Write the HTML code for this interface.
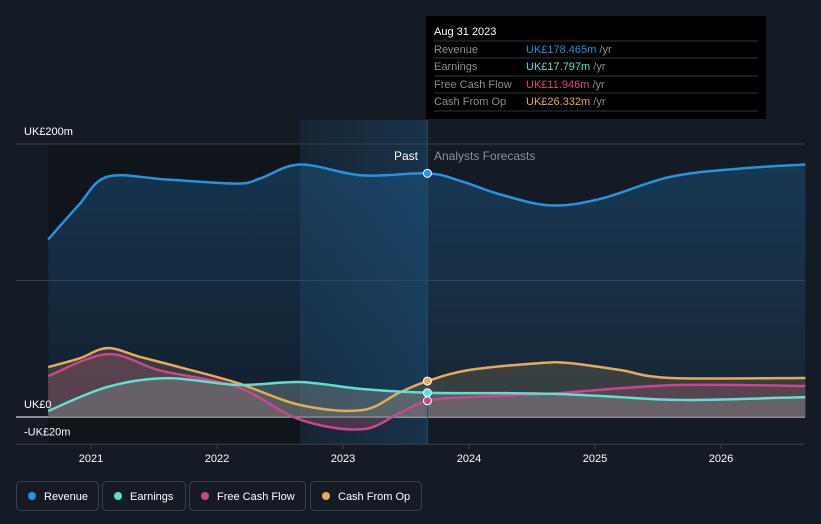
<!DOCTYPE html>
<html><head><meta charset="utf-8"><style>
body{margin:0;background:#151b24;font-family:"Liberation Sans",sans-serif;}
svg{display:block}
</style></head><body>
<svg id="chart" width="821" height="524" viewBox="0 0 821 524">
<defs>
<linearGradient id="gRev" x1="0" y1="0" x2="0" y2="1"><stop offset="0" stop-color="#1d5a8c" stop-opacity="0.45"/><stop offset="1" stop-color="#1d5a8c" stop-opacity="0.15"/></linearGradient>
<linearGradient id="gPast" x1="0" y1="0" x2="1" y2="0"><stop offset="0" stop-color="#1a4a70" stop-opacity="0.2"/><stop offset="1" stop-color="#1a4a70" stop-opacity="0.5"/></linearGradient>
</defs>
<rect x="0" y="0" width="821" height="524" fill="#151b24"/>
<rect x="48" y="144" width="252" height="300" fill="#10141b"/>
<rect x="300" y="120" width="127" height="324" fill="url(#gPast)"/>
<g id="grid"></g>
<g id="areas"></g>
<g id="lines"></g>
<g id="axis"></g>
<text x="418" y="160" fill="#ffffff" font-size="12" text-anchor="end">Past</text>
<text x="434" y="160" fill="#8a919c" font-size="12">Analysts Forecasts</text>
<g>
<rect x="426" y="16" width="340" height="103" fill="#000"/>
<text x="434" y="35" fill="#fff" font-size="11">Aug 31 2023</text>
<line x1="434" y1="41" x2="758" y2="41" stroke="#333"/>
<text x="434" y="53" fill="#8a8f96" font-size="11">Revenue</text><text x="526" y="53" font-size="11" fill="#2394df">UK£178.465m <tspan fill="#8a8f96">/yr</tspan></text>
<line x1="434" y1="58" x2="758" y2="58" stroke="#333"/>
<text x="434" y="70" fill="#8a8f96" font-size="11">Earnings</text><text x="526" y="70" font-size="11" fill="#5fe0cf">UK£17.797m <tspan fill="#8a8f96">/yr</tspan></text>
<line x1="434" y1="76" x2="758" y2="76" stroke="#333"/>
<text x="434" y="88" fill="#8a8f96" font-size="11">Free Cash Flow</text><text x="526" y="88" font-size="11" fill="#d9478a">UK£11.946m <tspan fill="#8a8f96">/yr</tspan></text>
<line x1="434" y1="93" x2="758" y2="93" stroke="#333"/>
<text x="434" y="105" fill="#8a8f96" font-size="11">Cash From Op</text><text x="526" y="105" font-size="11" fill="#e8a95a">UK£26.332m <tspan fill="#8a8f96">/yr</tspan></text>
<line x1="434" y1="111" x2="758" y2="111" stroke="#333"/>
</g>
<g id="legend"></g>
</svg>
<script>
const revT=[2020.66,2020.9,2021.13,2021.6,2022.16,2022.35,2022.66,2023.15,2023.67,2023.93,2024.25,2024.65,2025.05,2025.6,2026.15,2026.67];
const revV=[130,155,176,174,171,175,185,177,178.5,173,163,155,160,176,182,185];
const earnT=[2020.66,2021.13,2021.6,2022.16,2022.66,2023.15,2023.67,2024.25,2024.65,2025.05,2025.7,2026.67];
const earnV=[4.4,22,28.5,23.5,25.6,20.5,17.8,17.5,17,15.4,12.5,14.6];
const fcfT=[2020.66,2021.13,2021.55,2022.16,2022.66,2023.15,2023.45,2023.67,2024.0,2024.65,2025.05,2025.7,2026.67];
const fcfV=[30,46,34,22,-2,-9,3,11.9,14.6,17,20,23.5,22.7];
const cfoT=[2020.66,2020.91,2021.13,2021.39,2021.7,2022.16,2022.66,2023.15,2023.45,2023.67,2024.0,2024.56,2024.8,2025.2,2025.6,2026.67];
const cfoV=[36.6,43,50.5,44,36.6,25,8.8,5,18,26.3,34.4,39.5,39.5,34.4,28.6,28.6];
const yTicks=[200,100,0,-20];
const yLabels=["UK£200m","","UK£0","-UK£20m"];
const xTicks=[2021,2022,2023,2024,2025,2026];

const X=t=>91+(t-2021)*126;
const Y=v=>417-v*1.365;
const NS="http://www.w3.org/2000/svg";
function mk(tag,attrs,parent){const e=document.createElementNS(NS,tag);for(const k in attrs)e.setAttribute(k,attrs[k]);parent.appendChild(e);return e;}
function smooth(pts){let d=`M${pts[0][0]},${pts[0][1]}`;for(let i=0;i<pts.length-1;i++){const p0=pts[i-1]||pts[i],p1=pts[i],p2=pts[i+1],p3=pts[i+2]||p2;const c1=[p1[0]+(p2[0]-p0[0])/6,p1[1]+(p2[1]-p0[1])/6],c2=[p2[0]-(p3[0]-p1[0])/6,p2[1]-(p3[1]-p1[1])/6];d+=` C${c1[0]},${c1[1]} ${c2[0]},${c2[1]} ${p2[0]},${p2[1]}`;}return d;}
const grid=document.getElementById('grid'),axis=document.getElementById('axis'),areas=document.getElementById('areas'),lines=document.getElementById('lines');
yTicks.forEach((v,i)=>{
 const l=mk('line',{x1:16,x2:805,y1:Y(v),y2:Y(v),stroke:v===0?'#cfd3d8':'#39404a','stroke-width':v===0?1.2:1},grid);
 
 
 if(yLabels[i]){const t=mk('text',{x:24,y:Y(v)-9,fill:'#fff','font-size':11},axis);t.textContent=yLabels[i];
 
 }
});
xTicks.forEach(yr=>{
 mk('line',{x1:X(yr),x2:X(yr),y1:444,y2:449,stroke:'#39404a'},axis);
 const t=mk('text',{x:X(yr),y:462,fill:'#fff','font-size':11,'text-anchor':'middle'},axis);t.textContent=yr;
 
 
});
const series=[
 {n:'revenue',T:revT,V:revV,c:'#2394df',fill:'url(#gRev)',fo:1},
 {n:'cash-from-op',T:cfoT,V:cfoV,c:'#e8a95a',fill:'#6b6350',fo:0.4},
 {n:'free-cash-flow',T:fcfT,V:fcfV,c:'#c9478a',fill:'#8a4a66',fo:0.4},
 {n:'earnings',T:earnT,V:earnV,c:'#5fe0cf',fill:'#7b8a8a',fo:0.45}
];
series.forEach(s=>{
 const pts=s.T.map((t,i)=>[X(t),Y(s.V[i])]);
 const d=smooth(pts);
 const a=mk('path',{d:d+` L${pts[pts.length-1][0]},${Y(0)} L${pts[0][0]},${Y(0)} Z`,fill:s.fill,'fill-opacity':s.fo},areas);
 
 
 const l=mk('path',{d:d,fill:'none',stroke:s.c,'stroke-width':2.5},lines);
 
 
});
const mx=X(2023.67);
mk('line',{x1:mx,x2:mx,y1:120,y2:444,stroke:'#1d4f75','stroke-width':1},lines);
[[178.5,'#2394df'],[26.3,'#e8a95a'],[17.8,'#5fe0cf'],[11.9,'#c9478a']].forEach(([v,c])=>{
 const p=mk('circle',{cx:mx,cy:Y(v),r:4,fill:c,stroke:'#fff','stroke-width':1},lines);
 
 
});
const leg=document.getElementById('legend');
const items=[['Revenue','#2394df',16,98],['Earnings','#5fe0cf',102,185],['Free Cash Flow','#c9478a',189,305],['Cash From Op','#e8a95a',310,421]];
items.forEach(([lab,c,x0,x1])=>{
 const g=mk('g',{},leg);
 
 
 mk('rect',{x:x0+0.5,y:481.5,width:x1-x0,height:29,rx:4,fill:'none',stroke:'#3a414b'},g);
 mk('circle',{cx:x0+16,cy:496,r:4,fill:c},g);
 const t=mk('text',{x:x0+28,y:500,fill:'#fff','font-size':11},g);t.textContent=lab;
});
</script>
</body></html>
